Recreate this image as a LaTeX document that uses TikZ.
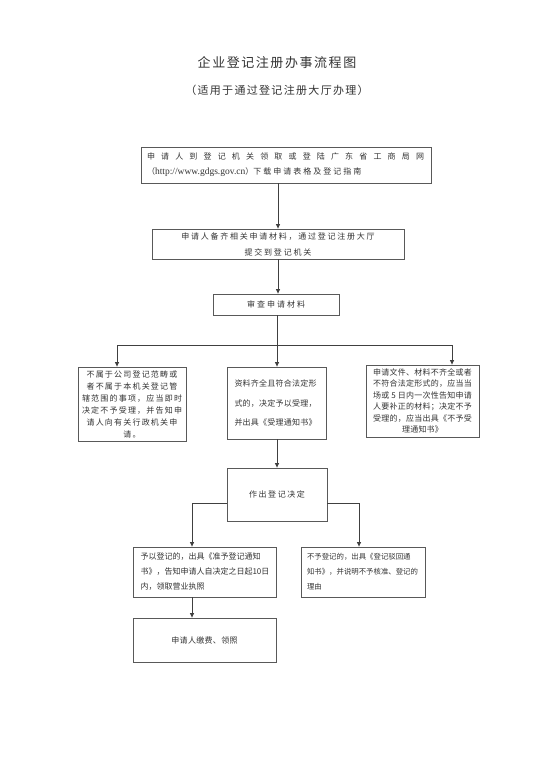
\documentclass[tikz,border=0pt]{standalone}
\usepackage{fontspec}
\setmainfont{Noto Sans CJK SC}
\newfontfamily\urlfont{Liberation Serif}
\usetikzlibrary{positioning,arrows.meta,calc}

\begin{document}
\begin{tikzpicture}[
  x=1pt, y=-1pt,
  box/.style={rectangle, draw=black!65, line width=0.8pt, align=center, text=black!80, inner sep=0pt, font=\fontsize{8}{12}\selectfont},
  arrow/.style={-{Triangle[length=4.5pt,width=4pt]}, line width=0.8pt, draw=black!75},
  line/.style={line width=0.8pt, draw=black!75},
  title/.style={text=black!80, inner sep=0pt},
]
\useasboundingbox[fill=white] (0,0) rectangle (554,783);

% === TITLE ===
\node[title, font=\fontsize{13}{15}\selectfont\addfontfeatures{LetterSpace=12}] (head) at (277,63) {企业登记注册办事流程图};
\node[title, font=\fontsize{11}{13}\selectfont\addfontfeatures{LetterSpace=12}] (sub) at (277,90) {（适用于通过登记注册大厅办理）};

% === APPLY, SUBMIT, REVIEW ===
\node[box, minimum width=290, minimum height=36, text width=278, align=left, font=\fontsize{8}{15}\selectfont] (apply) at (286,165)
  {{\addfontfeatures{LetterSpace=77}申请人到登记机关领取或登陆广东省工商局网}\\
   （{\urlfont\fontsize{9.5}{15}\selectfont http://www.gdgs.gov.cn}）{\addfontfeatures{LetterSpace=25}下载申请表格及登记指南}};
\node[box, minimum width=252, minimum height=30, font=\fontsize{8}{16}\selectfont\addfontfeatures{LetterSpace=22}] (submit) at (278,244)
  {申请人备齐相关申请材料，通过登记注册大厅\\提交到登记机关};
\node[box, minimum width=126, minimum height=21, font=\fontsize{8}{12}\selectfont\addfontfeatures{LetterSpace=25}] (review) at (276,304.5) {审查申请材料};

\draw[arrow] (apply.south -| submit) -- (submit);
\draw[arrow] (submit) -- (submit |- review.north);

% === THREE OUTCOMES OF REVIEW ===
\node[box, minimum width=108, minimum height=74, font=\fontsize{8}{12}\selectfont\addfontfeatures{LetterSpace=15}] (outside) at (132,404)
  {不属于公司登记范畴或\\者不属于本机关登记管\\辖范围的事项，应当即时\\决定不予受理，并告知申\\请人向有关行政机关申\\请。};
\node[box, minimum width=99, minimum height=72, text width=85, align=left, font=\fontsize{8}{19.5}\selectfont\addfontfeatures{LetterSpace=3}] (accept) at (277,403)
  {资料齐全且符合法定形\\式的，决定予以受理，\\并出具《受理通知书》};
\node[box, minimum width=113, minimum height=72, font=\fontsize{8}{11.5}\selectfont\addfontfeatures{LetterSpace=3}] (lack) at (422.5,401)
  {申请文件、材料不齐全或者\\不符合法定形式的，应当当\\场或 5 日内一次性告知申请\\人要补正的材料；决定不予\\受理的，应当出具《不予受\\理通知书》};

\coordinate (split) at (277,345);
\coordinate (splitl) at (117,345);
\coordinate (splitr) at (452,345);
\draw[line] (review.south -| split) -- (split);
\draw[line] (splitl) -- (splitr);
\draw[arrow] (splitl) -- (splitl |- outside.north);
\draw[arrow] (split) -- (split |- accept.north);
\draw[arrow] (splitr) -- (splitr |- lack.north);

% === DECISION ===
\node[box, minimum width=100, minimum height=53, font=\fontsize{8}{12}\selectfont\addfontfeatures{LetterSpace=19}] (decide) at (277,494.5) {作出登记决定};
\draw[arrow] (accept.south -| decide) -- (decide);

\node[box, minimum width=143, minimum height=50, text width=128, align=left, font=\fontsize{8}{15}\selectfont] (grant) at (204.5,572)
  {予以登记的，出具《准予登记通知\\书》，告知申请人自决定之日起10日\\内，领取营业执照};
\node[box, minimum width=124, minimum height=50, text width=112, align=left, font=\fontsize{7.4}{15}\selectfont] (refuse) at (363,572)
  {不予登记的，出具《登记驳回通\\知书》，并说明不予核准、登记的\\理由};
\node[box, minimum width=143, minimum height=44, font=\fontsize{8}{12}\selectfont\addfontfeatures{LetterSpace=4}] (fee) at (204.5,640) {申请人缴费、领照};

\coordinate (dl) at (192,503);
\coordinate (dr) at (359,503);
\draw[arrow] (decide.west |- dl) -- (dl) -- (dl |- grant.north);
\draw[arrow] (decide.east |- dr) -- (dr) -- (dr |- refuse.north);
\draw[arrow] (grant.south -| dl) -- (fee.north -| dl);
\end{tikzpicture}
\end{document}
